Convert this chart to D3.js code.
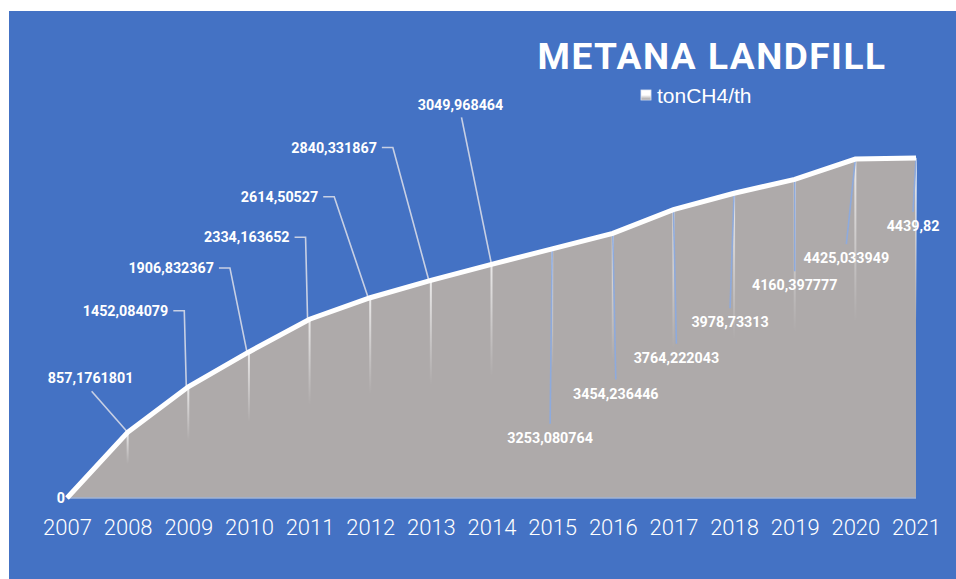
<!DOCTYPE html>
<html>
<head>
<meta charset="utf-8">
<script src="https://cdn.jsdelivr.net/npm/d3@7"></script>
<style>
  html, body { margin: 0; padding: 0; background: #ffffff; }
  svg { display: block; }
</style>
</head>
<body>
<div id="chart"></div>
<script>
// data
const years = ["2007", "2008", "2009", "2010", "2011", "2012", "2013", "2014",
               "2015", "2016", "2017", "2018", "2019", "2020", "2021"];
const values = [0, 857.1761801, 1452.084079, 1906.832367, 2334.163652, 2614.50527,
                2840.331867, 3049.968464, 3253.080764, 3454.236446, 3764.222043,
                3978.73313, 4160.397777, 4425.033949, 4439.82];
const valueLabels = ["0", "857,1761801", "1452,084079", "1906,832367", "2334,163652",
                     "2614,50527", "2840,331867", "3049,968464", "3253,080764",
                     "3454,236446", "3764,222043", "3978,73313", "4160,397777",
                     "4425,033949", "4439,82"];
const seriesName = "tonCH4/th";
const title = "METANA LANDFILL";

// label placement relative to its point: [dx, dy, kind]
// kind: "zero" | "top" (above, leader from below text) | "left" (end anchored + elbow) | "below"
const labelLayout = [
  [-2, 0, "zero"], [-37, -54, "top"], [-20, -76, "left"], [-35, -84, "left"],
  [-20, -82, "left"], [-52, -101, "left"], [-54, -133, "left"], [-31, -160, "top"],
  [-2, 189, "below"], [3, 160, "below"], [3, 148, "below"], [-4, 129, "below"],
  [0, 106, "below"], [-9, 99, "below"], [-3, 68, "below"]
];

const width = 956, height = 579;
const blue = "#4472c4", areaGray = "#aeaaaa";

const svg = d3.select("#chart").append("svg")
  .attr("width", width)
  .attr("height", height);

// background panel
svg.append("rect")
  .attr("x", 9).attr("y", 11)
  .attr("width", width - 9).attr("height", height - 11)
  .attr("fill", blue);

const x = d3.scalePoint().domain(years).range([67, 916]);
const y = d3.scaleLinear().domain([0, 5000]).range([498, 115]);

const data = years.map((yr, i) => ({ year: yr, value: values[i], label: valueLabels[i], lay: labelLayout[i] }));

const defs = svg.append("defs");
const fade = defs.append("linearGradient").attr("id", "fade")
  .attr("x1", 0).attr("y1", 0).attr("x2", 0).attr("y2", 1);
fade.append("stop").attr("offset", "0%").attr("stop-color", "#ffffff").attr("stop-opacity", 0.75);
fade.append("stop").attr("offset", "100%").attr("stop-color", "#ffffff").attr("stop-opacity", 0);

const mark = defs.append("linearGradient").attr("id", "mark")
  .attr("x1", 0).attr("y1", 0).attr("x2", 0).attr("y2", 1);
mark.append("stop").attr("offset", "50%").attr("stop-color", "#ffffff");
mark.append("stop").attr("offset", "100%").attr("stop-color", "#9e9a9a");

// area
const area = d3.area()
  .x(d => x(d.year))
  .y0(y(0))
  .y1(d => y(d.value));

svg.append("path")
  .datum(data)
  .attr("d", area)
  .attr("fill", areaGray);

// base line
svg.append("line")
  .attr("x1", x(years[0])).attr("x2", x(years[years.length - 1]))
  .attr("y1", y(0)).attr("y2", y(0))
  .attr("stroke", "#9fb3d6")
  .attr("stroke-width", 1.5);

// faint reflections under each point
svg.selectAll(".glow")
  .data(data.slice(1))
  .enter().append("rect")
  .attr("class", "glow")
  .attr("x", d => x(d.year) - 1)
  .attr("y", d => y(d.value))
  .attr("width", 2)
  .attr("height", d => (y(0) - y(d.value)) * 0.48)
  .attr("fill", "url(#fade)");

// leader lines
const leader = d => {
  const px = x(d.year), py = y(d.value);
  const [dx, dy, kind] = d.lay;
  if (kind === "top") return `M${px + dx + 1},${py + dy + 13}L${px},${py}`;
  if (kind === "left") return `M${px + dx + 5},${py + dy}H${px + dx + 16}L${px - 2},${py}`;
  if (kind === "below") return `M${px},${py}L${px + dx},${py + dy - 14}`;
  return null;
};

svg.selectAll(".leader")
  .data(data.filter(d => d.lay[2] !== "zero"))
  .enter().append("path")
  .attr("class", "leader")
  .attr("d", leader)
  .attr("fill", "none")
  .attr("stroke", d => d.lay[2] === "below" ? "#8eaadc" : "#c8d0e4")
  .attr("stroke-width", 1.6);

// the line
svg.append("path")
  .datum(data)
  .attr("d", d3.line().x(d => x(d.year)).y(d => y(d.value)))
  .attr("fill", "none")
  .attr("stroke", "#ffffff")
  .attr("stroke-width", 5)
  .attr("stroke-linejoin", "miter");

// value labels
svg.selectAll(".vlabel")
  .data(data)
  .enter().append("text")
  .attr("class", "vlabel")
  .attr("x", d => x(d.year) + d.lay[0])
  .attr("y", d => y(d.value) + d.lay[1])
  .attr("dy", "0.36em")
  .attr("text-anchor", d => (d.lay[2] === "left" || d.lay[2] === "zero") ? "end" : "middle")
  .attr("fill", "#ffffff")
  .style("font-family", "Roboto, 'Noto Sans', sans-serif")
  .style("font-weight", "bold")
  .style("font-size", "14.3px")
  .text(d => d.label);

// x axis labels
const xAxis = d3.axisBottom(x).tickSize(0).tickPadding(0);
const ax = svg.append("g")
  .attr("transform", `translate(0,${y(0) + 21})`)
  .call(xAxis);
ax.select(".domain").remove();
ax.selectAll("text")
  .attr("fill", "#ffffff")
  .attr("dy", "0.71em")
  .style("font-family", "Roboto, 'Noto Sans', sans-serif")
  .style("font-weight", "300")
  .style("font-size", "22px");

// title
svg.append("text")
  .attr("x", 712).attr("y", 69)
  .attr("text-anchor", "middle")
  .attr("fill", "#ffffff")
  .style("font-family", "Roboto, 'Noto Sans', sans-serif")
  .style("font-weight", "bold")
  .style("font-size", "37px")
  .style("letter-spacing", "1.5px")
  .text(title);

// legend
svg.append("rect")
  .attr("x", 641).attr("y", 90)
  .attr("width", 10).attr("height", 10)
  .attr("fill", "url(#mark)")
  .attr("stroke", "#dfe6f3")
  .attr("stroke-width", 0.8);
svg.append("text")
  .attr("x", 657).attr("y", 96)
  .attr("dy", "0.35em")
  .attr("fill", "#ffffff")
  .style("font-family", "'Liberation Sans', Arial, sans-serif")
  .style("font-size", "21px")
  .text(seriesName);
</script>
</body>
</html>
